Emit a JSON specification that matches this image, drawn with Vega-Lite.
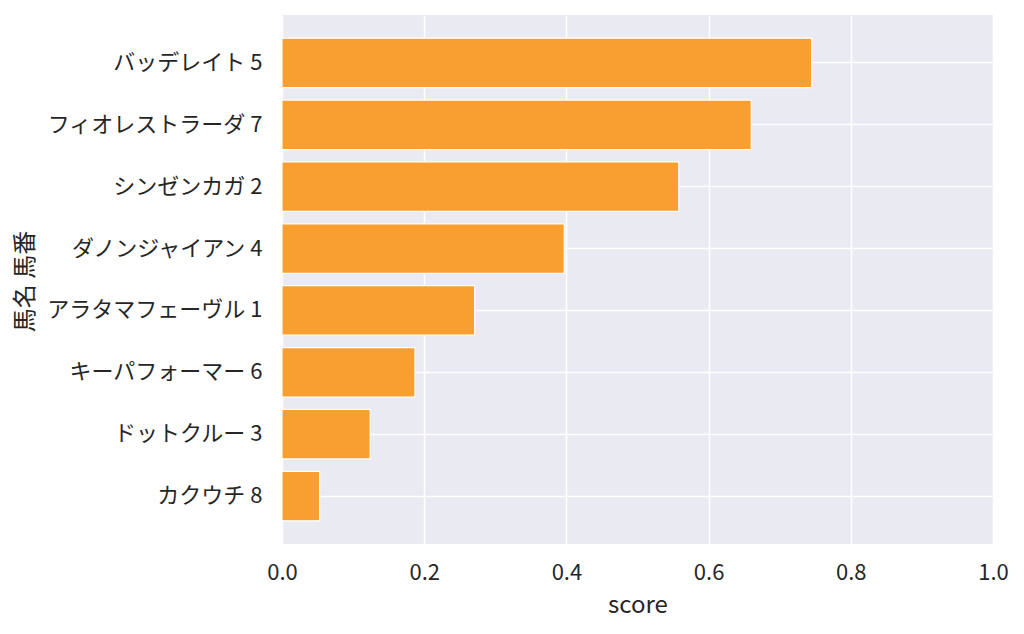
{
  "$schema": "https://vega.github.io/schema/vega-lite/v6.json",
  "autosize": "none",
  "width": 711,
  "height": 529,
  "padding": {"left": 282, "top": 15, "right": 30, "bottom": 90},
  "background": "white",
  "data": {
    "values": [
      {"horse": "バッデレイト 5", "score": 0.745},
      {"horse": "フィオレストラーダ 7", "score": 0.660},
      {"horse": "シンゼンカガ 2", "score": 0.558},
      {"horse": "ダノンジャイアン 4", "score": 0.397},
      {"horse": "アラタマフェーヴル 1", "score": 0.271},
      {"horse": "キーパフォーマー 6", "score": 0.187},
      {"horse": "ドットクルー 3", "score": 0.124},
      {"horse": "カクウチ 8", "score": 0.053}
    ]
  },
  "mark": {
    "type": "bar",
    "color": "#f99e30",
    "stroke": "white",
    "strokeWidth": 1.2
  },
  "encoding": {
    "y": {
      "field": "horse",
      "type": "nominal",
      "sort": "-x",
      "scale": {"paddingInner": 0.2, "paddingOuter": 0.375},
      "axis": {
        "title": "馬名 馬番",
        "bandPosition": 0.5,
        "labelPadding": 20,
        "labelLimit": 400,
        "titleX": -245,
        "titleY": 266
      }
    },
    "x": {
      "field": "score",
      "type": "quantitative",
      "scale": {"domain": [0, 1]},
      "axis": {
        "title": "score",
        "values": [0, 0.2, 0.4, 0.6, 0.8, 1.0],
        "format": ".1f",
        "labelFlush": false,
        "labelPadding": 18,
        "titlePadding": 10
      }
    }
  },
  "config": {
    "font": "Noto Sans CJK JP",
    "view": {"fill": "#eaeaf2", "stroke": null},
    "axis": {
      "grid": true,
      "gridColor": "white",
      "gridWidth": 1.5,
      "domain": false,
      "ticks": false,
      "labelFont": "Noto Sans CJK JP",
      "titleFont": "Noto Sans CJK JP",
      "labelFontSize": 22,
      "titleFontSize": 24,
      "titleFontWeight": "normal",
      "labelColor": "#262626",
      "titleColor": "#262626"
    }
  }
}
